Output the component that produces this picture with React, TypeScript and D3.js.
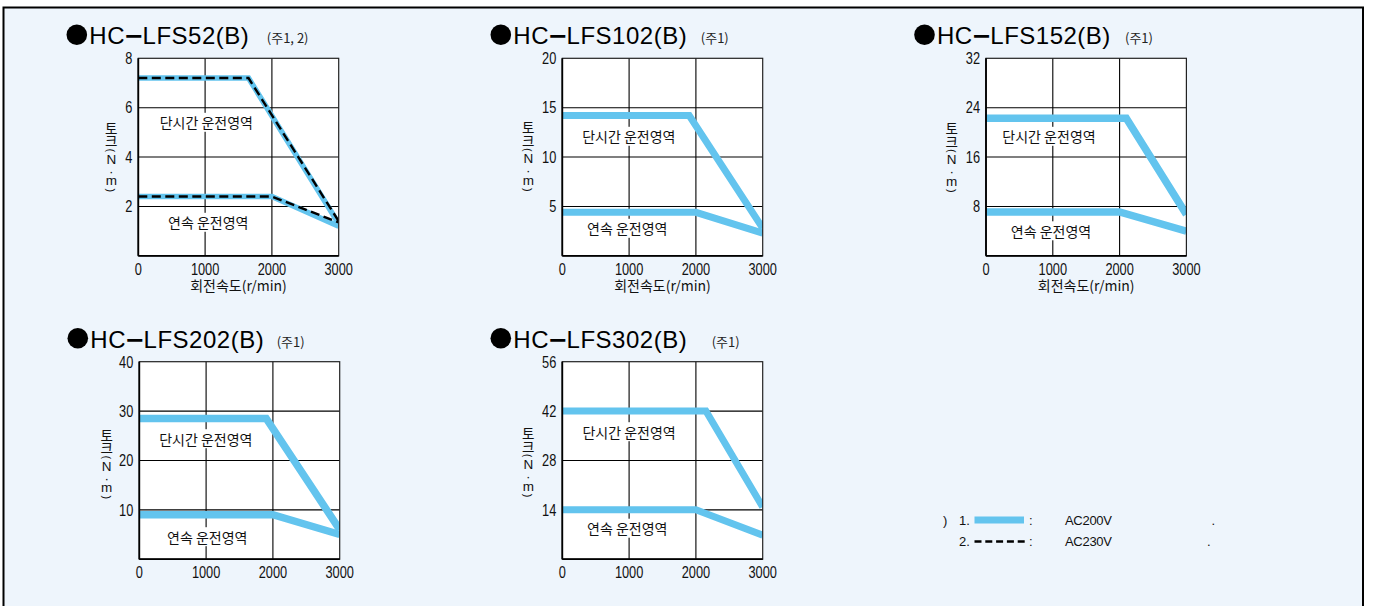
import React from 'react';
import * as d3 from 'd3';

type Pt = [number, number];

// ---------- data ----------
const speedTicks = [0, 1000, 2000, 3000];
const speedMax = 3000;

const modelNames = ['LFS52(B)', 'LFS102(B)', 'LFS152(B)', 'LFS202(B)', 'LFS302(B)'];
const modelNotes = ['(주1, 2)', '(주1)', '(주1)', '(주1)', '(주1)'];
const torqueMax = [8, 20, 32, 40, 56];
const torqueTicks = [
  [2, 4, 6, 8],
  [5, 10, 15, 20],
  [8, 16, 24, 32],
  [10, 20, 30, 40],
  [14, 28, 42, 56],
];

// short-time (단시간) and continuous (연속) operating region boundaries, AC200V
const lfs52Short: Pt[] = [[0, 7.2], [1650, 7.2], [3000, 1.3]];
const lfs52Cont: Pt[] = [[0, 2.4], [2000, 2.4], [3000, 1.2]];
const lfs102Short: Pt[] = [[0, 14.2], [1900, 14.2], [3000, 2.8]];
const lfs102Cont: Pt[] = [[0, 4.4], [2000, 4.4], [3000, 2.3]];
const lfs152Short: Pt[] = [[0, 22.3], [2100, 22.3], [3000, 6.7]];
const lfs152Cont: Pt[] = [[0, 7.1], [2000, 7.1], [3000, 4.0]];
const lfs202Short: Pt[] = [[0, 28.5], [1900, 28.5], [3000, 6.0]];
const lfs202Cont: Pt[] = [[0, 9.0], [2000, 9.0], [3000, 5.0]];
const lfs302Short: Pt[] = [[0, 42], [2150, 42], [3000, 14.8]];
const lfs302Cont: Pt[] = [[0, 14], [2000, 14], [3000, 6.8]];
// AC230V (HC-LFS52 only)
const lfs52Short230: Pt[] = [[0, 7.2], [1650, 7.2], [3000, 1.4]];
const lfs52Cont230: Pt[] = [[0, 2.4], [2000, 2.4], [3000, 1.35]];

const shortSeries = [lfs52Short, lfs102Short, lfs152Short, lfs202Short, lfs302Short];
const contSeries = [lfs52Cont, lfs102Cont, lfs152Cont, lfs202Cont, lfs302Cont];
const dashedSeries: Pt[][][] = [[lfs52Short230, lfs52Cont230], [], [], [], []];

const shortLabel = '단시간 운전영역';
const contLabel = '연속 운전영역';
const xAxisTitle = '회전속도(r/min)';
const yAxisChars = ['토', '크', '(', 'N', '·', 'm', ')'];
const showXTitle = [true, true, true, false, false];
const legendNums = ['1.', '2.'];
const legendTexts = ['AC200V', 'AC230V'];

// ---------- layout ----------
const layouts = [
  { left: 138.3, top: 58.3, note: 128.5, yLab: 27, yLabTop: 69.5, sLab: [68, 64], cLab: [70, 164], band: 5.5 },
  { left: 562.3, top: 58.3, note: 138.5, yLab: 34, yLabTop: 69, sLab: [66.5, 78], cLab: [65, 170], band: 7 },
  { left: 986, top: 58.3, note: 139, yLab: 34.3, yLabTop: 70, sLab: [63, 78], cLab: [65, 172.5], band: 7.5 },
  { left: 139.3, top: 361.7, note: 137.4, yLab: 32.6, yLabTop: 73, sLab: [66.5, 77], cLab: [68, 175], band: 7.5 },
  { left: 562.3, top: 361.7, note: 149.4, yLab: 34, yLabTop: 71.5, sLab: [66.8, 70], cLab: [65, 166.5], band: 7 },
];
const PW = 200.4;
const PH = 197.5;
const yCharOffsets = [0, 12.5, 22.5, 31.5, 43.5, 53, 62.5];

const BLUE = '#63C4EE';
const BG = '#EEF5FC';
const SANS = "'Liberation Sans', Arial, sans-serif";
const KR = "'Noto Sans CJK KR', 'Noto Sans', sans-serif";

function Narrow({ x, y, anchor, size, children }: any) {
  return (
    <text
      transform={`translate(${x},${y}) scale(0.8,1)`}
      textAnchor={anchor}
      fontSize={size}
      fontFamily={SANS}
      fill="#111"
    >
      {children}
    </text>
  );
}

function RegionLabel({ x, y, w, text }: any) {
  return (
    <g>
      <rect x={x - w / 2} y={y - 9.5} width={w} height={19} fill="#fff" />
      <text x={x} y={y} textAnchor="middle" dominantBaseline="central" fontSize={14} fontFamily={KR} fill="#111">
        {text}
      </text>
    </g>
  );
}

function Chart({ i }: { i: number }) {
  const L = layouts[i];
  const x = d3.scaleLinear().domain([0, speedMax]).range([0, PW]);
  const y = d3.scaleLinear().domain([0, torqueMax[i]]).range([PH, 0]);
  const line = d3
    .line<Pt>()
    .x((d) => x(d[0]))
    .y((d) => y(d[1]));
  const clipId = `clip${i}`;
  return (
    <g>
      {/* title */}
      <circle cx={L.left - 61.5} cy={L.top - 23.5} r={10.3} fill="#000" />
      <text x={L.left - 49} y={L.top - 14} fontSize={24} fontFamily={SANS} fill="#000" letterSpacing={0.5}>
        HC
        <tspan fontFamily="'DejaVu Sans', sans-serif" fontWeight={700} dx={-1.5}>−</tspan>
        <tspan dx={-1.5}>{modelNames[i]}</tspan>
      </text>
      <text x={L.left + L.note} y={L.top - 15} fontSize={13} fontFamily={KR} fill="#222">
        {modelNotes[i]}
      </text>
      <g transform={`translate(${L.left},${L.top})`}>
        <defs>
          <clipPath id={clipId}>
            <rect x={0} y={0} width={PW} height={PH} />
          </clipPath>
        </defs>
        <rect x={0} y={0} width={PW} height={PH} fill="#fff" />
        {/* grid */}
        {speedTicks.slice(1, -1).map((t) => (
          <line key={'v' + t} x1={x(t)} x2={x(t)} y1={0} y2={PH} stroke="#000" strokeWidth={1.1} />
        ))}
        {torqueTicks[i].slice(0, -1).map((t) => (
          <line key={'h' + t} x1={0} x2={PW} y1={y(t)} y2={y(t)} stroke="#000" strokeWidth={1.1} />
        ))}
        {/* region labels (white boxes hide grid) */}
        <RegionLabel x={L.sLab[0]} y={L.sLab[1]} w={100} text={shortLabel} />
        <RegionLabel x={L.cLab[0]} y={L.cLab[1]} w={88} text={contLabel} />
        {/* curves */}
        <g clipPath={`url(#${clipId})`}>
          <path d={line(shortSeries[i]) || ''} fill="none" stroke={BLUE} strokeWidth={L.band} strokeLinejoin="miter" />
          <path d={line(contSeries[i]) || ''} fill="none" stroke={BLUE} strokeWidth={L.band} strokeLinejoin="miter" />
          {dashedSeries[i].map((s, k) => (
            <path key={k} d={line(s) || ''} fill="none" stroke="#000" strokeWidth={2.4} strokeDasharray="9,4.5" />
          ))}
        </g>
        {/* frame */}
        <rect x={0} y={0} width={PW} height={PH} fill="none" stroke="#222" strokeWidth={1.2} />
        <line x1={0} x2={0} y1={0} y2={PH} stroke="#000" strokeWidth={1.8} />
        <line x1={0} x2={PW} y1={PH} y2={PH} stroke="#000" strokeWidth={1.8} />
        {/* y ticks */}
        {torqueTicks[i].map((t) => (
          <Narrow key={'yt' + t} x={-6} y={y(t) + 5.8} anchor="end" size={16}>
            {t}
          </Narrow>
        ))}
        {/* x ticks */}
        {speedTicks.map((t) => (
          <Narrow key={'xt' + t} x={x(t)} y={PH + 19} anchor="middle" size={16}>
            {t}
          </Narrow>
        ))}
        {showXTitle[i] && (
          <text x={PW / 2} y={PH + 35} textAnchor="middle" fontSize={14} fontFamily={KR} fill="#111">
            {xAxisTitle}
          </text>
        )}
        {/* y axis title (stacked, upright characters) */}
        {yAxisChars.map((c, k) => {
          const cx = -L.yLab;
          const cy = L.yLabTop + yCharOffsets[k];
          const paren = c === '(' || c === ')';
          const kor = k < 2;
          return (
            <text
              key={k}
              x={cx}
              y={cy}
              textAnchor="middle"
              dominantBaseline="central"
              fontSize={kor ? 13.5 : paren ? 11 : 13.5}
              fontFamily={kor ? KR : SANS}
              fill="#111"
              transform={paren ? `rotate(90,${cx},${cy})` : undefined}
            >
              {c}
            </text>
          );
        })}
      </g>
    </g>
  );
}

function Legend() {
  const rows = [520, 541.5];
  return (
    <g fontFamily={SANS} fontSize={13} fill="#111">
      <text x={943} y={rows[0]} dominantBaseline="central">)</text>
      {rows.map((ry, k) => (
        <g key={k}>
          <text x={959} y={ry} dominantBaseline="central">{legendNums[k]}</text>
          {k === 0 ? (
            <line x1={974.5} x2={1024} y1={ry} y2={ry} stroke={BLUE} strokeWidth={7} />
          ) : (
            <line x1={974.5} x2={1026} y1={ry} y2={ry} stroke="#000" strokeWidth={2.5} strokeDasharray="7,3.8" />
          )}
          <text x={1029} y={ry} dominantBaseline="central">:</text>
          <text x={1065} y={ry} dominantBaseline="central" letterSpacing={-0.3}>{legendTexts[k]}</text>
          <text x={k === 0 ? 1211.5 : 1207} y={ry} dominantBaseline="central">.</text>
        </g>
      ))}
    </g>
  );
}

export default function App() {
  return (
    <svg
      width={1373}
      height={606}
      style={{ position: 'absolute', left: 0, top: 0, display: 'block' }}
    >
      <rect x={0} y={0} width={1373} height={606} fill="#fff" />
      <rect x={3.5} y={7.5} width={1359.5} height={620} fill={BG} stroke="#000" strokeWidth={2} />
      {[0, 1, 2, 3, 4].map((i) => (
        <Chart key={i} i={i} />
      ))}
      <Legend />
    </svg>
  );
}
